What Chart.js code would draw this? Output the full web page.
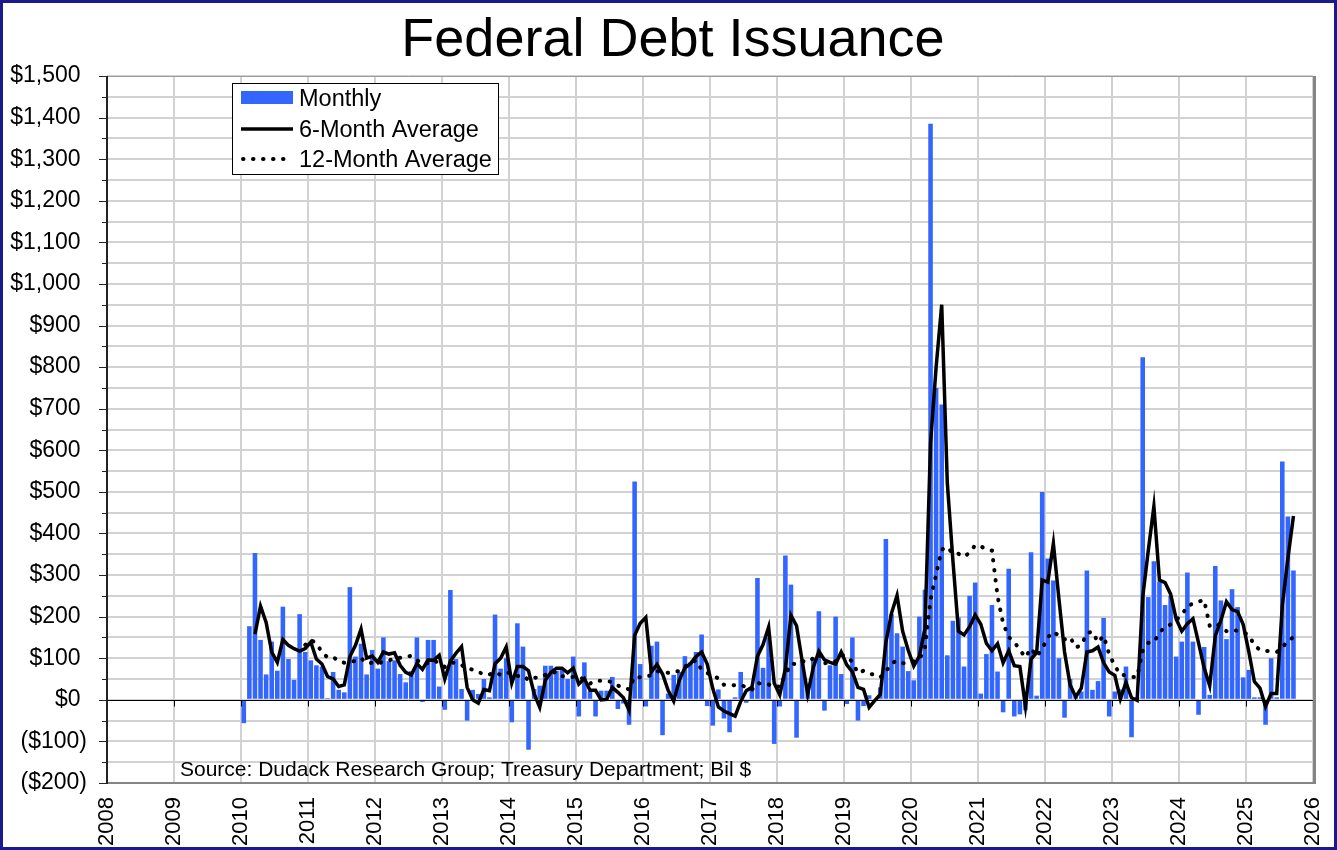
<!DOCTYPE html>
<html>
<head>
<meta charset="utf-8">
<title>Federal Debt Issuance</title>
<script src="https://cdn.jsdelivr.net/npm/chart.js@4.4.1/dist/chart.umd.min.js"></script>
<style>
  html, body { margin: 0; padding: 0; background: #fff; }
  #wrap { position: relative; width: 1337px; height: 850px; }
</style>
</head>
<body>
<div id="wrap"><canvas id="chartDebt" width="1337" height="850"></canvas></div>
<script>
// first month of data is Jan 2010, one value per month
var firstYear = 2010;

// monthly issuance, $ billions
var monthly = [
  -56, 177, 353, 144, 61, 140, 70, 224, 98, 48, 206, 115,     // 2010
  95, 83, 80, 4, 67, 24, 18, 271, 104, 135, 61, 120,          // 2011
  75, 150, 93, 95, 62, 42, 69, 150, -5, 144, 144, 32,         // 2012
  -24, 264, 98, 26, -50, 24, 14, 50, 6, 205, 75, 100,         // 2013
  -54, 184, 128, -120, 26, 34, 82, 82, 70, 75, 50, 104,       // 2014
  -40, 90, 20, -40, 22, 22, 55, -22, -9, -60, 525, 86,        // 2015
  -16, 130, 140, -85, 15, 60, 67, 105, 90, 115, 157, -15,     // 2016
  -62, 25, -45, -78, 6, 67, -7, 30, 293, 77, 150, -106,       // 2017
  -16, 347, 277, -91, 96, 37, 101, 213, -26, 83, 200, 62,     // 2018
  -10, 150, -50, -15, 11, -2, 30, 387, 206, 160, 128, 69,     // 2019
  47, 200, 265, 1385, 750, 710, 107, 190, 198, 80, 250, 282,  // 2020
  15, 110, 228, 68, -30, 315, -40, -35, -25, 355, 10, 500,    // 2021
  340, 287, 100, -43, 50, 15, 20, 311, 24, 45, 197, -40,      // 2022
  20, 25, 80, -90, 6, 824, 247, 333, 284, 228, 250, 104,      // 2023
  140, 306, 140, -36, 127, 12, 322, 239, 146, 266, 223, 54,   // 2024
  72, 6, 6, -60, 100, 6, 573, 441, 311                        // 2025
];

// "6-Month Average" line as drawn
var avg6 = [
  null, null, 158, 225, 186, 115, 90, 145, 131, 123, 117, 123,
  139, 98, 86, 56, 50, 32, 36, 104, 131, 170, 100, 105,
  90, 115, 110, 113, 83, 66, 60, 87, 73, 96, 95, 107,
  50, 93, 112, 128, 30, 0, -8, 25, 22, 87, 100, 127,
  40, 80, 80, 70, 15, -18, 47, 66, 76, 76, 65, 76,
  38, 51, 23, 23, 0, 1, 30, 18, 5, -25, 155, 184,
  198, 67, 85, 62, 23, -3, 47, 77, 87, 104, 115, 86,
  27, -17, -27, -33, -39, -4, 22, 30, 105, 133, 175, 40,
  12, 75, 203, 178, 94, 14, 78, 117, 96, 90, 86, 115,
  84, 67, 30, 25, -18, -2, 13, 138, 208, 251, 165, 119,
  81, 105, 171, 617, 800, 950, 522, 336, 165, 156, 176, 204,
  182, 136, 118, 135, 89, 118, 82, 80, -15, 98, 113, 288,
  283, 376, 242, 115, 36, 7, 28, 115, 118, 127, 89, 67,
  59, 2, 42, 5, -1, 247, 359, 465, 288, 282, 254, 194,
  165, 183, 195, 137, 77, 34, 154, 191, 236, 217, 212, 181,
  116, 44, 28, -16, 15, 15, 226, 340, 442
];

// "12-Month Average" dotted line as drawn
var avg12 = [
  null, null, null, null, null, null, null, null, null, null, null, 132,
  144, 136, 114, 102, 103, 93, 89, 92, 93, 100, 88, 89,
  87, 92, 94, 101, 101, 102, 106, 96, 87, 88, 95, 88,
  79, 89, 89, 84, 74, 73, 68, 60, 61, 66, 60, 66,
  63, 57, 59, 47, 53, 54, 60, 62, 68, 57, 55, 55,
  56, 48, 39, 46, 46, 45, 43, 34, 30, 25, 56, 54,
  56, 59, 69, 66, 65, 68, 69, 80, 88, 95, 72, 64,
  60, 51, 36, 36, 35, 36, 30, 24, 41, 37, 37, 29,
  33, 60, 87, 86, 93, 91, 100, 110, 88, 89, 93, 107,
  105, 91, 64, 70, 63, 60, 54, 68, 88, 94, 88, 89,
  93, 98, 124, 241, 302, 361, 368, 351, 351, 344, 354, 372,
  369, 362, 359, 249, 184, 151, 139, 120, 102, 124, 104, 123,
  150, 164, 154, 145, 151, 126, 131, 160, 164, 138, 154, 109,
  82, 60, 59, 55, 55, 118, 137, 139, 161, 176, 181, 193,
  203, 226, 231, 236, 240, 178, 184, 176, 165, 168, 166, 162,
  156, 131, 120, 118, 116, 115, 125, 143, 150
];

var seriesNames = ['Monthly', '6-Month Average', '12-Month Average'];
var titleText = 'Federal Debt Issuance';
var sourceText = 'Source: Dudack Research Group; Treasury Department; Bil $';

var xMin = 2008, xMax = 2026;
var yMin = -200, yMax = 1500, yGridStep = 50, yLabelStep = 100;

var BLUE = '#3366ff';
var GRID = '#d2d2d2';
var FONT = 'Arial, "Liberation Sans", sans-serif';

function monthX(i) { return firstYear + (i + 0.5) / 12; }

function toPoints(arr) {
  var pts = [];
  arr.forEach(function(v, i) { if (v !== null) pts.push({ x: monthX(i), y: v }); });
  return pts;
}

function yLabel(v) {
  if (v % yLabelStep !== 0) return '';
  if (v < 0) return '($' + Math.abs(v).toLocaleString('en-US') + ')';
  return '$' + v.toLocaleString('en-US') + ' ';
}

var yTickValues = [];
for (var t = yMin; t <= yMax; t += yGridStep) yTickValues.push(t);
var xTickValues = [];
for (var yr = xMin; yr <= xMax; yr++) xTickValues.push(yr);

var decorPlugin = {
  id: 'decor',
  beforeDraw: function(chart) {
    var c = chart.ctx;
    c.save();
    c.fillStyle = '#fff';
    c.fillRect(0, 0, chart.width, chart.height);
    c.restore();
  },
  afterDatasetDraw: function(chart, args) {
    if (args.meta.type !== 'bar') return;
    // x axis crosses at $0, with small year ticks
    var c = chart.ctx, a = chart.chartArea, sx = chart.scales.x, sy = chart.scales.y;
    var y0 = Math.round(sy.getPixelForValue(0)) + 0.5;
    c.save();
    c.strokeStyle = '#000';
    c.lineWidth = 1;
    c.beginPath();
    c.moveTo(a.left, y0);
    c.lineTo(a.right, y0);
    xTickValues.forEach(function(v) {
      var px = Math.round(sx.getPixelForValue(v)) + 0.5;
      c.moveTo(px, y0);
      c.lineTo(px, y0 + 6);
    });
    c.stroke();
    c.restore();
  },
  afterDraw: function(chart) {
    var c = chart.ctx, a = chart.chartArea, sy = chart.scales.y;
    c.save();

    // title
    c.fillStyle = '#000';
    c.font = '54px ' + FONT;
    c.textAlign = 'center';
    c.textBaseline = 'alphabetic';
    c.fillText(titleText, 673, 56);

    // plot frame
    c.strokeStyle = '#9a9a9a';
    c.lineWidth = 1;
    c.beginPath();
    c.moveTo(a.left, a.top + 0.5);
    c.lineTo(a.right, a.top + 0.5);
    c.stroke();
    c.strokeStyle = '#858585';
    c.lineWidth = 3;
    c.beginPath();
    c.moveTo(a.right + 1.5, a.top);
    c.lineTo(a.right + 1.5, a.bottom + 1);
    c.stroke();
    c.lineWidth = 2;
    c.beginPath();
    c.moveTo(a.left, a.bottom);
    c.lineTo(a.right + 3, a.bottom);
    c.stroke();

    // y axis line and tick marks
    c.strokeStyle = '#222';
    c.lineWidth = 2;
    c.beginPath();
    c.moveTo(a.left, a.top);
    c.lineTo(a.left, a.bottom + 1);
    c.stroke();
    c.lineWidth = 1;
    c.beginPath();
    yTickValues.forEach(function(v) {
      var py = Math.round(sy.getPixelForValue(v)) + 0.5;
      var len = v % yLabelStep === 0 ? 8 : 5;
      c.moveTo(a.left - len, py);
      c.lineTo(a.left, py);
    });
    c.stroke();

    // legend box
    var lx = a.left + 125, ly = a.top + 7, lw = 266, lh = 91;
    c.fillStyle = '#fff';
    c.fillRect(lx, ly, lw, lh);
    c.strokeStyle = '#000';
    c.lineWidth = 1;
    c.strokeRect(lx + 0.5, ly + 0.5, lw, lh);

    c.fillStyle = BLUE;
    c.fillRect(lx + 9, ly + 8, 52, 13);

    c.strokeStyle = '#000';
    c.lineWidth = 3.5;
    c.beginPath();
    c.moveTo(lx + 9, ly + 46);
    c.lineTo(lx + 61, ly + 46);
    c.stroke();

    c.lineWidth = 4;
    c.lineCap = 'round';
    c.setLineDash([0.5, 9.5]);
    c.beginPath();
    c.moveTo(lx + 11, ly + 76);
    c.lineTo(lx + 61, ly + 76);
    c.stroke();
    c.setLineDash([]);
    c.lineCap = 'butt';

    c.fillStyle = '#000';
    c.font = '23.5px ' + FONT;
    c.textAlign = 'left';
    c.fillText(seriesNames[0], lx + 67, ly + 23);
    c.fillText(seriesNames[1], lx + 67, ly + 53.5);
    c.fillText(seriesNames[2], lx + 67, ly + 84);

    // source note
    c.font = '21px ' + FONT;
    c.fillText(sourceText, 180, 776);

    // outer border
    c.strokeStyle = '#1a1a8c';
    c.lineWidth = 3;
    c.strokeRect(1.5, 1.5, chart.width - 3, chart.height - 3);

    c.restore();
  }
};

Chart.defaults.font.family = FONT;

new Chart(document.getElementById('chartDebt'), {
  type: 'bar',
  data: {
    datasets: [
      {
        label: seriesNames[0],
        data: toPoints(monthly),
        backgroundColor: BLUE,
        borderWidth: 0,
        barPercentage: 0.82,
        categoryPercentage: 1,
        order: 3
      },
      {
        type: 'line',
        label: seriesNames[1],
        data: toPoints(avg6),
        borderColor: '#000',
        borderWidth: 3.5,
        pointRadius: 0,
        tension: 0,
        fill: false,
        order: 1
      },
      {
        type: 'line',
        label: seriesNames[2],
        data: toPoints(avg12),
        borderColor: '#000',
        borderWidth: 4,
        borderDash: [0.5, 9.5],
        borderCapStyle: 'round',
        pointRadius: 0,
        tension: 0,
        fill: false,
        order: 2
      }
    ]
  },
  options: {
    responsive: false,
    animation: false,
    devicePixelRatio: 1,
    events: [],
    layout: { padding: { left: 0, right: 24, top: 76, bottom: 0 } },
    plugins: {
      legend: { display: false },
      tooltip: { enabled: false },
      title: { display: false }
    },
    scales: {
      x: {
        type: 'linear',
        min: xMin,
        max: xMax,
        offset: false,
        afterBuildTicks: function(s) { s.ticks = xTickValues.map(function(v) { return { value: v }; }); },
        afterFit: function(s) { s.height = 67; s.paddingLeft = 0; s.paddingRight = 0; },
        grid: { color: GRID, lineWidth: 2, drawTicks: false, offset: false },
        border: { display: false },
        ticks: {
          autoSkip: false,
          minRotation: 90,
          maxRotation: 90,
          padding: 14,
          color: '#000',
          font: { size: 22 },
          callback: function(v) { return String(v); }
        }
      },
      y: {
        type: 'linear',
        min: yMin,
        max: yMax,
        afterBuildTicks: function(s) { s.ticks = yTickValues.map(function(v) { return { value: v }; }); },
        afterFit: function(s) { s.width = 107; },
        grid: { color: GRID, lineWidth: 2, drawTicks: false },
        border: { display: false },
        ticks: {
          autoSkip: false,
          padding: 20,
          color: '#000',
          font: { size: 23 },
          callback: function(v) { return yLabel(v); }
        }
      }
    }
  },
  plugins: [decorPlugin]
});
</script>
</body>
</html>
